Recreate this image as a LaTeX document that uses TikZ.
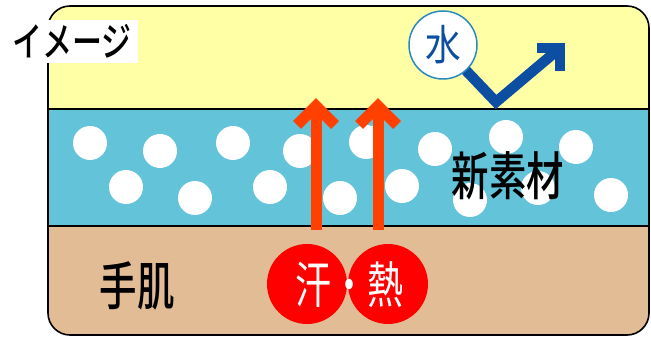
\documentclass[tikz,border=0pt]{standalone}
\usepackage{fontspec}
\newfontfamily\jp{Noto Sans CJK JP}
\newfontfamily\jpm{Noto Sans CJK JP Medium}
\usetikzlibrary{calc}
\definecolor{layerY}{HTML}{FFFFA6}
\definecolor{layerB}{HTML}{62C3D9}
\definecolor{layerS}{HTML}{E2BC94}
\definecolor{arrowO}{HTML}{FF4000}
\definecolor{arrowB}{HTML}{0B4EA2}
\definecolor{ringB}{HTML}{2A8AC0}
\definecolor{redC}{HTML}{FF0000}
\begin{document}
\begin{tikzpicture}[x=1pt,y=-1pt,
  dot/.style={circle,fill=white,minimum size=34pt,inner sep=0pt},
  redcirc/.style={circle,fill=redC,minimum size=80pt,inner sep=0pt},
  blacklabel/.style={inner sep=0pt,font=\jpm\fontsize{52}{52}\selectfont},
  oshaft/.style={draw=arrowO,line width=11pt},
  ohead/.style={draw=arrowO,line width=11pt,miter limit=10},
  bshaft/.style={draw=arrowB,line width=10.5pt,miter limit=10},
  layerline/.style={line width=1.3pt,black}]
\useasboundingbox (0,0) rectangle (651,339);
\begin{scope}
  \clip[rounded corners=22pt] (48,6) rectangle (649,335);
  \fill[layerY] (48,6) rectangle (649,109);
  \fill[layerB] (48,109) rectangle (649,226);
  \fill[layerS] (48,226) rectangle (649,335);
\end{scope}
% dots
\foreach \i/\x/\y in {1/90/143,2/160/151,3/233/143,4/300/151,5/366/142,6/435/149,7/506/137,8/576/147,
  9/126/187,10/195/198,11/270/187,12/340/198,13/402/186,14/470/200,15/538/188,16/611/195}
  \node[dot] (d\i) at (\x,\y) {};
\draw[layerline] (48,109) -- (649,109);
\draw[layerline] (48,226) -- (649,226);
\draw[line width=1.6pt,rounded corners=22pt] (48,6) rectangle (649,335);
% label box
\node[fill=white,minimum width=132pt,minimum height=43pt,inner sep=0pt] (img) at (72,41.5)
  {\jpm\fontsize{40}{40}\selectfont\scalebox{0.75}[1]{イメージ}};
% text labels
\node[blacklabel] (mat) at (508,176) {\scalebox{0.72}[1]{新素材}};
\node[blacklabel] (skin) at (137,286) {\scalebox{0.72}[1]{手肌}};
% orange arrows
\coordinate (o1s) at (316,230); \coordinate (o1t) at (316,106);
\coordinate (o2s) at (378,230); \coordinate (o2t) at (378,106);
\draw[oshaft] (o1s) -- (o1t);
\draw[ohead] ($(o1t)+(-19,19)$) -- (o1t) -- ($(o1t)+(19,19)$);
\draw[oshaft] (o2s) -- (o2t);
\draw[ohead] ($(o2t)+(-19,19)$) -- (o2t) -- ($(o2t)+(19,19)$);
% red circles
\node[redcirc] (sweat) at (307,284) {};
\node[redcirc] (heat) at (388,284) {};
\node[inner sep=0pt,text=white,font=\jp\fontsize{50}{50}\selectfont] (sh) at (349,285) {\scalebox{0.72}[1]{汗・熱}};
% water
\node[circle,minimum size=68pt,inner sep=0pt] (water) at (443,45) {};
\coordinate (bv) at (496,102);
\coordinate (bt) at (560,48);
\draw[bshaft] (water.-48) -- (bv) -- (bt);
\draw[bshaft] ($(bt)+(-23,0)$) -- (bt) -- ($(bt)+(0,23)$);
\node[circle,draw=ringB,line width=1.5pt,fill=white,minimum size=68pt,inner sep=0pt,text=arrowB,font=\jp\fontsize{42}{42}\selectfont] at (water) {\scalebox{0.85}[1]{水}};
\end{tikzpicture}
\end{document}
